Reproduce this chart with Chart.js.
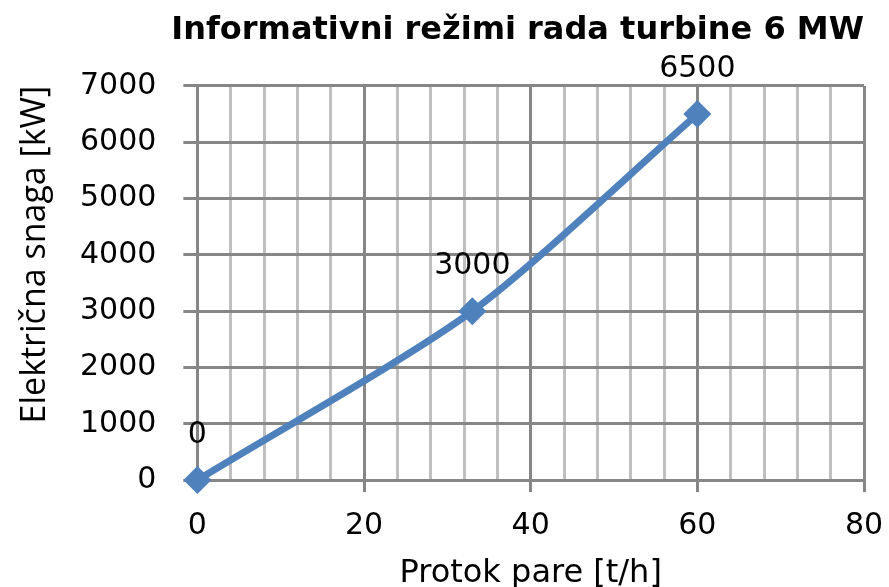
<!DOCTYPE html>
<html>
<head>
<meta charset="utf-8">
<script src="https://cdn.jsdelivr.net/npm/chart.js@4"></script>
<style>
  html, body { margin: 0; padding: 0; background: #fff; }
  #wrap { width: 889px; height: 587px; }
</style>
</head>
<body>
<div id="wrap"><canvas id="turbineChart"></canvas></div>
<script>
// Data
const steamFlow = [0, 33, 60];          // Protok pare [t/h]
const power = [0, 3000, 6500];          // Električna snaga [kW]
const pointLabels = ['0', '3000', '6500'];

const xMajor = 20;
const darkGrid = '#868686';
const lightGrid = '#bfbfbf';
const blue = '#4f81bd';

// labels above each point
const valueLabels = {
  id: 'valueLabels',
  afterDatasetsDraw(chart) {
    const ctx = chart.ctx;
    const meta = chart.getDatasetMeta(0);
    ctx.save();
    ctx.font = '30px "DejaVu Sans"';
    ctx.fillStyle = '#000';
    ctx.textAlign = 'center';
    ctx.textBaseline = 'middle';
    meta.data.forEach((pt, i) => {
      ctx.fillText(pointLabels[i], pt.x, pt.y - 45);
    });
    ctx.restore();
  }
};

const config = {
  type: 'line',
  data: {
    datasets: [{
      data: steamFlow.map((x, i) => ({ x: x, y: power[i] })),
      borderColor: blue,
      backgroundColor: blue,
      borderWidth: 7,
      tension: 0.25,
      pointStyle: 'rectRot',
      pointRadius: 14,
      pointBorderWidth: 0,
      clip: false,
    }],
  },
  options: {
    responsive: true,
    maintainAspectRatio: false,
    animation: false,
    layout: { padding: { left: 0, right: 25, top: 0, bottom: 0 } },
    plugins: {
      legend: { display: false },
      tooltip: { enabled: false },
      title: {
        display: true,
        text: 'Informativni režimi rada turbine 6 MW',
        align: 'end',
        color: '#000',
        font: { family: 'DejaVu Sans', size: 32, weight: 'bold', lineHeight: 1.2 },
        padding: { top: 11, bottom: 36.5 },
      },
    },
    scales: {
      x: {
        type: 'linear',
        min: 0,
        max: 80,
        border: { color: darkGrid, width: 3 },
        grid: {
          color: (c) => (c.tick && c.tick.value % xMajor === 0 ? darkGrid : lightGrid),
          tickColor: (c) => (c.tick && c.tick.value % xMajor === 0 ? darkGrid : 'transparent'),
          lineWidth: 3,
          tickLength: 12,
        },
        ticks: {
          stepSize: 4,
          autoSkip: false,
          maxRotation: 0,
          padding: 5,
          color: '#000',
          font: { family: 'DejaVu Sans', size: 30, lineHeight: 1.93 },
          callback: (v) => (v % xMajor === 0 ? String(v) : ''),
        },
        title: {
          display: true,
          text: 'Protok pare [t/h]',
          color: '#000',
          font: { family: 'DejaVu Sans', size: 32, lineHeight: 0.75 },
          padding: { top: 2, bottom: 1 },
        },
      },
      y: {
        min: 0,
        max: 7000,
        border: { color: darkGrid, width: 3 },
        grid: {
          color: darkGrid,
          lineWidth: 3,
          tickLength: 14,
        },
        ticks: {
          stepSize: 1000,
          padding: 27,
          color: '#000',
          font: { family: 'DejaVu Sans', size: 30, lineHeight: 1 },
          callback: (v) => String(v),
        },
        title: {
          display: true,
          text: 'Električna snaga [kW]',
          align: 'end',
          color: '#000',
          font: { family: 'Open Sans', size: 34, lineHeight: 1 },
          padding: { top: 18, bottom: 1 },
        },
      },
    },
  },
  plugins: [valueLabels],
};

const ctx = document.getElementById('turbineChart').getContext('2d');
new Chart(ctx, config);
</script>
</body>
</html>
